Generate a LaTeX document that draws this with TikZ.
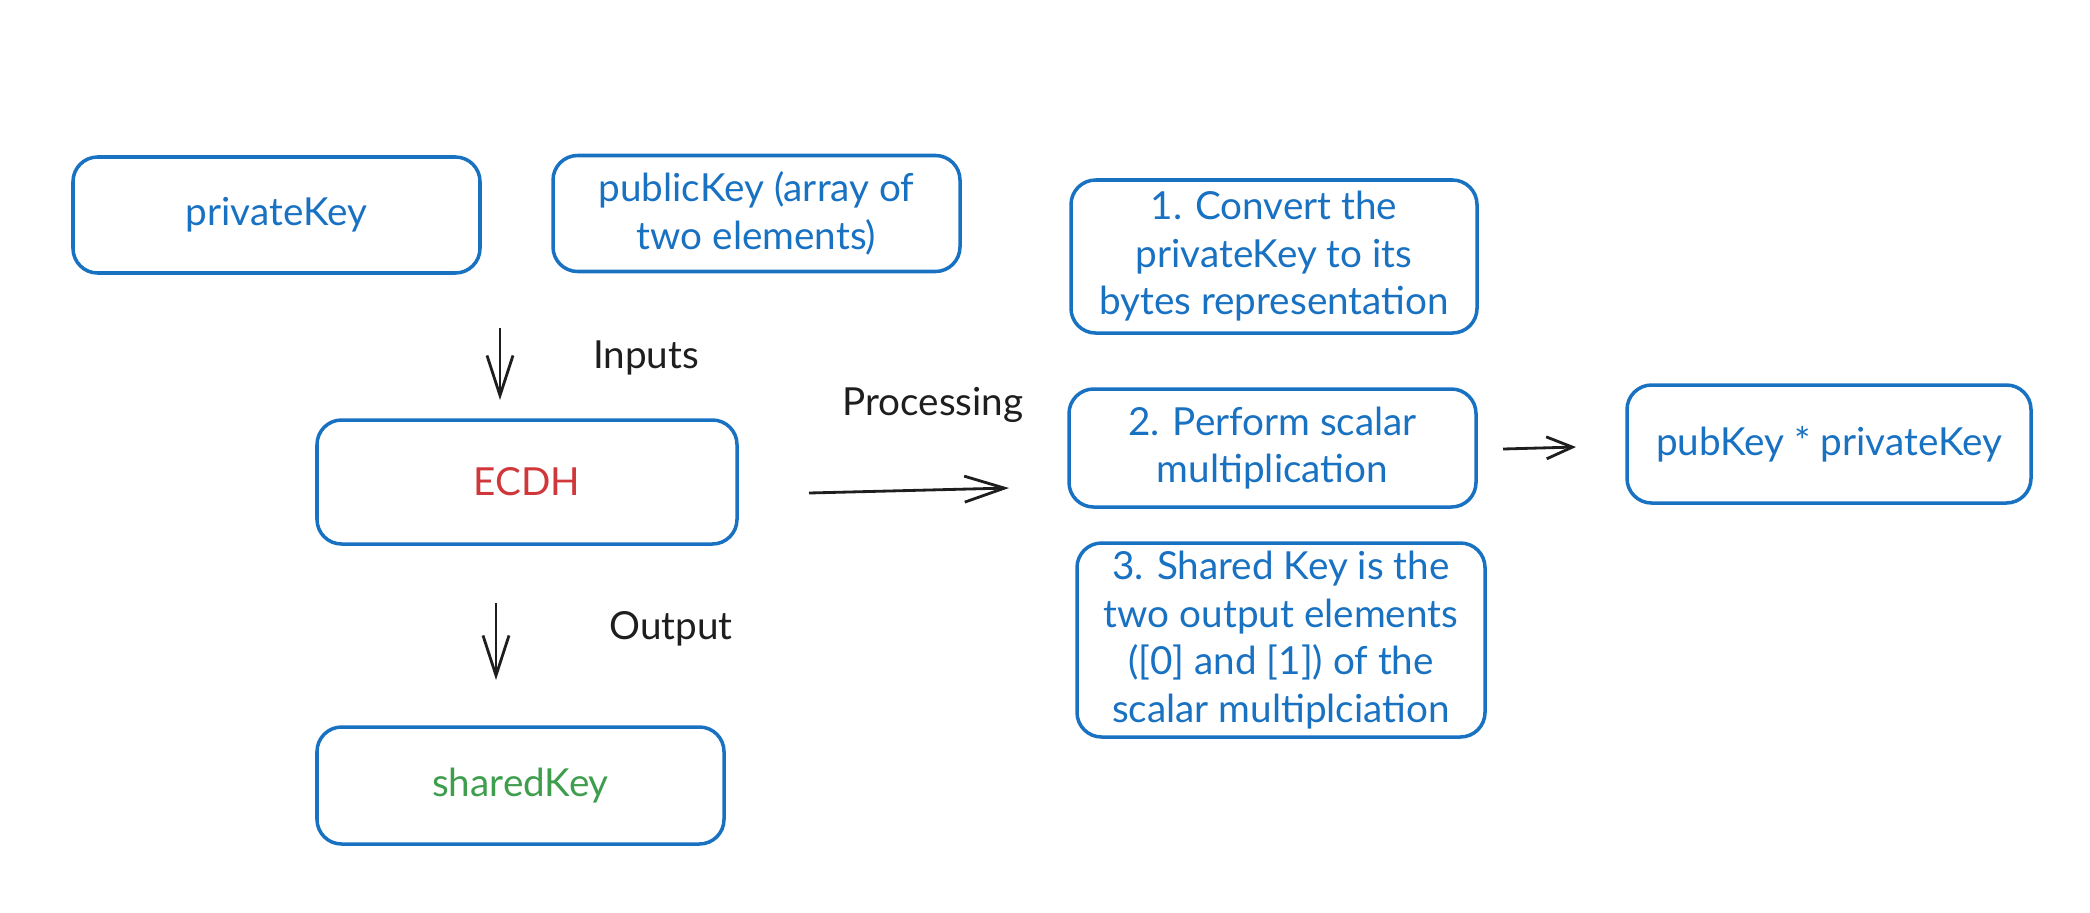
\documentclass[tikz,border=0pt]{standalone}
\usepackage{fontspec}
\setmainfont{Lato}
\usetikzlibrary{arrows.meta,positioning}
\definecolor{boxblue}{HTML}{1971C2}
\definecolor{ecdhred}{HTML}{D0373A}
\definecolor{keygreen}{HTML}{3F9E4D}
\definecolor{ink}{HTML}{1E1E1E}

\begin{document}
\begin{tikzpicture}[>={Straight Barb[length=4mm,width=2.6mm]},
    box/.style={draw=boxblue, line width=1pt, rounded corners=7pt, text=boxblue,
        minimum width=4.07cm, minimum height=1.16cm, align=center, inner sep=2pt,
        font=\fontsize{11}{13.5}\selectfont},
    lbl/.style={text=ink, font=\fontsize{11}{13.5}\selectfont},
    flow/.style={->, draw=ink, line width=0.8pt}]
    \useasboundingbox (0,0) rectangle (20.9,-9.12);
    % inputs
    \node[box] (priv) at (2.765,-2.15) {privateKey};
    \node[box] (pub) at (7.565,-2.135) {publicKey (array of\\two elements)};
    % main block and result
    \node[box, minimum width=4.2cm, minimum height=1.24cm, text=ecdhred] (ecdh) at (5.27,-4.82) {ECDH};
    \node[box, minimum height=1.17cm, text=keygreen] (shared) at (5.205,-7.855) {sharedKey};
    % processing steps
    \node[box, minimum width=4.06cm, minimum height=1.53cm] (step1) at (12.74,-2.565) {1. Convert the\\privateKey to its\\bytes representation};
    \node[box, minimum height=1.18cm] (step2) at (12.725,-4.48) {2. Perform scalar\\multiplication};
    \node[box, minimum width=4.08cm, minimum height=1.94cm] (step3) at (12.81,-6.40) {3. Shared Key is the\\two output elements\\([0] and [1]) of the\\scalar multiplciation};
    \node[box, minimum width=4.04cm, minimum height=1.18cm] (mult) at (18.29,-4.44) {pubKey * privateKey};
    % labels
    \node[lbl] (inputs) at (6.46,-3.58) {Inputs};
    \node[lbl] (proc) at (9.33,-4.05) {Processing};
    \node[lbl] (output) at (6.71,-6.29) {Output};
    % free arrow ends
    \coordinate (inA) at (5.00,-3.28);
    \coordinate (inB) at (5.00,-4.00);
    \coordinate (outA) at (4.96,-6.03);
    \coordinate (outB) at (4.96,-6.80);
    \coordinate (procA) at (8.09,-4.93);
    \coordinate (procB) at (10.09,-4.88);
    \coordinate (multA) at (15.03,-4.49);
    \coordinate (multB) at (15.76,-4.47);
    \draw[flow] (inA) -- (inB);
    \draw[flow] (outA) -- (outB);
    \draw[flow] (procA) -- (procB);
    \draw[flow, >={Straight Barb[length=2.6mm,width=2.2mm]}] (multA) -- (multB);
\end{tikzpicture}
\end{document}
